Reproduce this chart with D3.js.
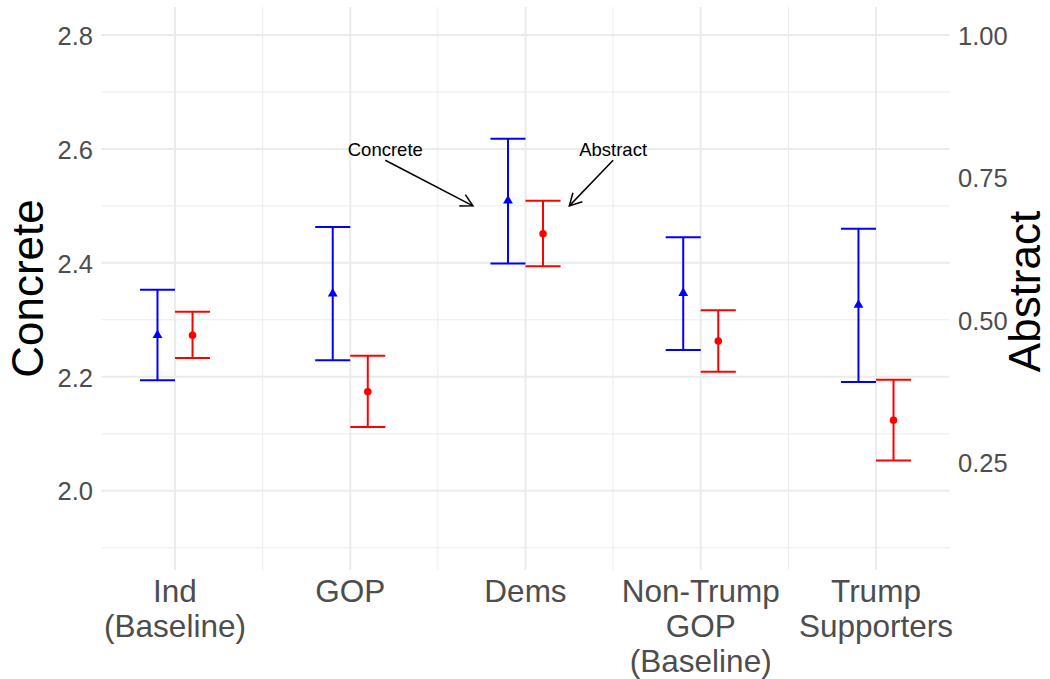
<!DOCTYPE html>
<html>
<head>
<meta charset="utf-8">
<script src="https://cdn.jsdelivr.net/npm/d3@7"></script>
<style>
  html, body { margin: 0; padding: 0; background: #fff; }
  svg { display: block; font-family: "Liberation Sans", Arial, Helvetica, sans-serif; }
</style>
</head>
<body>
<svg id="chart" width="1050" height="679"></svg>
<script>
// Groups along the x axis (each label split into its lines)
const categories = [
  ["Ind", "(Baseline)"],
  ["GOP"],
  ["Dems"],
  ["Non-Trump", "GOP", "(Baseline)"],
  ["Trump", "Supporters"]
];

// Concrete scores: mean and interval bounds (left axis)
const concreteMean = [2.273, 2.346, 2.509, 2.347, 2.326];
const concreteLow  = [2.194, 2.229, 2.399, 2.247, 2.191];
const concreteHigh = [2.353, 2.463, 2.618, 2.445, 2.460];

// Abstract scores: mean and interval bounds (right axis)
const abstractMean = [0.473, 0.374, 0.651, 0.463, 0.324];
const abstractLow  = [0.433, 0.312, 0.594, 0.409, 0.253];
const abstractHigh = [0.514, 0.437, 0.709, 0.517, 0.395];

// Axis ticks
const concreteTicks = [2.0, 2.2, 2.4, 2.6, 2.8];
const concreteMinor = [1.9, 2.1, 2.3, 2.5, 2.7];
const abstractTicks = [0.25, 0.50, 0.75, 1.00];

// Arrow callouts: label position and arrow start/end in data units
const callouts = [
  { label: "Concrete", x: 2.2, y: 2.6, x0: 2.2, y0: 2.58, x1: 2.7,  y1: 2.5 },
  { label: "Abstract", x: 3.5, y: 2.6, x0: 3.5, y0: 2.58, x1: 3.25, y1: 2.5 }
];

// The abstract scale sits on the concrete scale shifted by a constant
const ABS_OFFSET = 1.8;
const toConcrete = a => a + ABS_OFFSET;

const svg = d3.select("#chart");

const panel = { left: 101.4, right: 949.6, top: 7, bottom: 570 };

const x = d3.scaleLinear().domain([0.58, 5.42]).range([panel.left, panel.right]);
const y = d3.scaleLinear().domain([1.861, 2.849]).range([panel.bottom, panel.top]);

const gridColor = "#ebebeb";
const grid = svg.append("g");

// minor gridlines
grid.selectAll("line.hminor").data(concreteMinor).join("line")
  .attr("x1", panel.left).attr("x2", panel.right)
  .attr("y1", d => y(d)).attr("y2", d => y(d))
  .attr("stroke", gridColor).attr("stroke-width", 1);
const xMinor = d3.range(1.5, categories.length, 1);
grid.selectAll("line.vminor").data(xMinor).join("line")
  .attr("y1", panel.top).attr("y2", panel.bottom)
  .attr("x1", d => x(d)).attr("x2", d => x(d))
  .attr("stroke", gridColor).attr("stroke-width", 1);

// major gridlines
grid.selectAll("line.hmajor").data(concreteTicks).join("line")
  .attr("x1", panel.left).attr("x2", panel.right)
  .attr("y1", d => y(d)).attr("y2", d => y(d))
  .attr("stroke", gridColor).attr("stroke-width", 2);
grid.selectAll("line.vmajor").data(categories.map((c, i) => i + 1)).join("line")
  .attr("y1", panel.top).attr("y2", panel.bottom)
  .attr("x1", d => x(d)).attr("x2", d => x(d))
  .attr("stroke", gridColor).attr("stroke-width", 2);

// Left axis (Concrete)
const leftAxis = d3.axisLeft(y).tickValues(concreteTicks).tickFormat(d3.format(".1f")).tickSize(0).tickPadding(8.5);
const gL = svg.append("g").attr("transform", `translate(${panel.left},0)`).call(leftAxis);
gL.select(".domain").remove();
gL.selectAll("text").attr("font-size", 25.5).attr("fill", "#4d4d4d")
  .attr("font-family", "Liberation Sans, Arial, sans-serif").attr("dy", "0.36em");

// Right axis (Abstract), placed through the offset onto the concrete scale
const yAbs = d3.scaleLinear()
  .domain(y.domain().map(v => v - ABS_OFFSET))
  .range(y.range());
const rightAxis = d3.axisRight(yAbs).tickValues(abstractTicks).tickFormat(d3.format(".2f")).tickSize(0).tickPadding(8.5);
const gR = svg.append("g").attr("transform", `translate(${panel.right},0)`).call(rightAxis);
gR.select(".domain").remove();
gR.selectAll("text").attr("font-size", 25.5).attr("fill", "#4d4d4d")
  .attr("font-family", "Liberation Sans, Arial, sans-serif").attr("dy", "0.36em");

// Bottom axis: multi-line category labels
const xLabels = svg.append("g");
categories.forEach((lines, i) => {
  const t = xLabels.append("text")
    .attr("x", x(i + 1)).attr("y", 601.5)
    .attr("text-anchor", "middle")
    .attr("font-size", 31.5).attr("fill", "#4d4d4d");
  lines.forEach((ln, j) => {
    t.append("tspan").attr("x", x(i + 1)).attr("y", 601.5 + j * 35).text(ln);
  });
});

// Axis titles
svg.append("text")
  .attr("transform", `translate(43,${(panel.top + panel.bottom) / 2}) rotate(-90)`)
  .attr("text-anchor", "middle").attr("font-size", 44).attr("fill", "#000")
  .text("Concrete");
svg.append("text")
  .attr("transform", `translate(1040,${(panel.top + panel.bottom) / 2 + 3}) rotate(-90)`)
  .attr("text-anchor", "middle").attr("font-size", 44).attr("fill", "#000")
  .text("Abstract");

// Error bars
const dodge = 0.1, capHalf = 0.1;
function drawBars(color, means, lows, highs, side, shape) {
  const g = svg.append("g");
  const rows = means.map((m, i) => ({ xc: i + 1 + side * dodge, m, lo: lows[i], hi: highs[i] }));
  g.selectAll("line.stem").data(rows).join("line")
    .attr("x1", d => x(d.xc)).attr("x2", d => x(d.xc))
    .attr("y1", d => y(d.lo)).attr("y2", d => y(d.hi))
    .attr("stroke", color).attr("stroke-width", 2);
  g.selectAll("line.capTop").data(rows).join("line")
    .attr("x1", d => x(d.xc - capHalf)).attr("x2", d => x(d.xc + capHalf))
    .attr("y1", d => y(d.hi)).attr("y2", d => y(d.hi))
    .attr("stroke", color).attr("stroke-width", 2);
  g.selectAll("line.capBot").data(rows).join("line")
    .attr("x1", d => x(d.xc - capHalf)).attr("x2", d => x(d.xc + capHalf))
    .attr("y1", d => y(d.lo)).attr("y2", d => y(d.lo))
    .attr("stroke", color).attr("stroke-width", 2);
  g.selectAll("path.pt").data(rows).join("path")
    .attr("transform", d => `translate(${x(d.xc)},${y(d.m)})`)
    .attr("d", d3.symbol().type(shape).size(shape === d3.symbolTriangle ? 42 : 44))
    .attr("fill", color);
}

drawBars("#0000ff", concreteMean, concreteLow, concreteHigh, -1, d3.symbolTriangle);
drawBars("#ff0000", abstractMean.map(toConcrete), abstractLow.map(toConcrete),
         abstractHigh.map(toConcrete), 1, d3.symbolCircle);

// Callout arrows with open heads
svg.append("defs").append("marker")
  .attr("id", "openHead")
  .attr("viewBox", "-13 -8 15 16")
  .attr("refX", 0).attr("refY", 0)
  .attr("markerWidth", 15).attr("markerHeight", 16)
  .attr("markerUnits", "userSpaceOnUse")
  .attr("orient", "auto")
  .append("path")
  .attr("d", "M-12,-6.5 L0,0 L-12,6.5")
  .attr("fill", "none").attr("stroke", "#000").attr("stroke-width", 1.5);

const notes = svg.append("g");
callouts.forEach(c => {
  notes.append("line")
    .attr("x1", x(c.x0)).attr("y1", y(c.y0))
    .attr("x2", x(c.x1)).attr("y2", y(c.y1))
    .attr("stroke", "#000").attr("stroke-width", 1.5)
    .attr("marker-end", "url(#openHead)");
  notes.append("text")
    .attr("x", x(c.x)).attr("y", y(c.y)).attr("dy", "0.36em")
    .attr("text-anchor", "middle").attr("font-size", 18.5).attr("fill", "#000")
    .text(c.label);
});
</script>
</body>
</html>
